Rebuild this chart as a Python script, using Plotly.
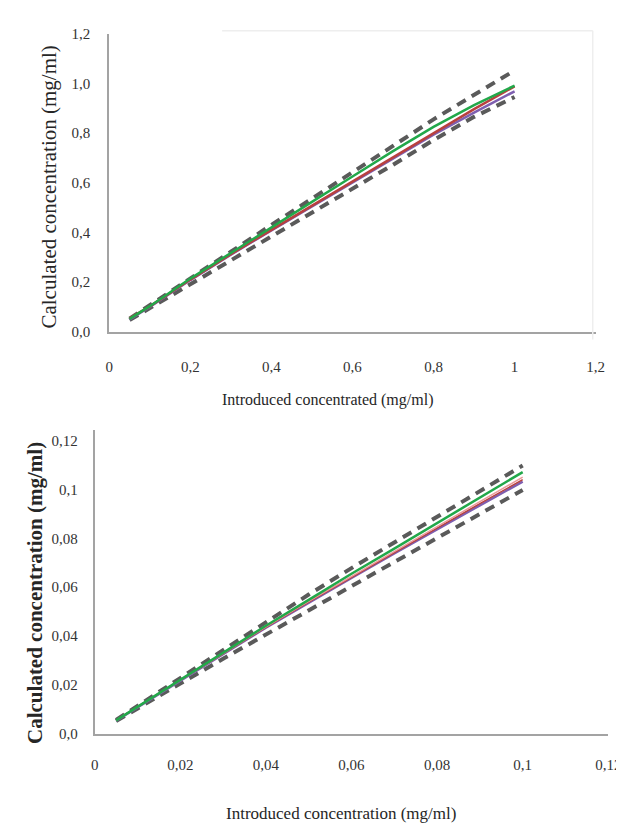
import plotly.graph_objects as go

W, H = 624, 824

# ---------- Top chart data (0.05 - 1 mg/ml) ----------
top_x = [0.05, 0.1, 0.2, 0.3, 0.4, 0.5, 0.6, 0.7, 0.8, 0.9, 1.0]
top_green = [0.052, 0.103, 0.214, 0.318, 0.421, 0.523, 0.625, 0.727, 0.825, 0.912, 0.991]
top_red = [0.054, 0.102, 0.210, 0.312, 0.410, 0.507, 0.605, 0.703, 0.800, 0.896, 0.988]
top_purple = [0.050, 0.100, 0.208, 0.310, 0.408, 0.505, 0.602, 0.698, 0.793, 0.882, 0.968]
top_upper = [0.053, 0.106, 0.215, 0.322, 0.430, 0.535, 0.642, 0.748, 0.855, 0.955, 1.052]
top_lower = [0.047, 0.095, 0.190, 0.285, 0.380, 0.476, 0.572, 0.672, 0.772, 0.865, 0.945]
top_xticks = [0, 0.2, 0.4, 0.6, 0.8, 1.0, 1.2]
top_xticktext = ["0", "0,2", "0,4", "0,6", "0,8", "1", "1,2"]
top_yticks = [0, 0.2, 0.4, 0.6, 0.8, 1.0, 1.2]
top_yticktext = ["0,0", "0,2", "0,4", "0,6", "0,8", "1,0", "1,2"]

# ---------- Bottom chart data (0.005 - 0.1 mg/ml) ----------
bot_x = [0.005, 0.01, 0.02, 0.03, 0.04, 0.05, 0.06, 0.07, 0.08, 0.09, 0.1]
bot_green = [0.0055, 0.0110, 0.0221, 0.0330, 0.0442, 0.0548, 0.0655, 0.0758, 0.0862, 0.0967, 0.1071]
bot_pink = [0.0055, 0.0110, 0.0220, 0.0328, 0.0438, 0.0542, 0.0645, 0.0747, 0.0848, 0.0950, 0.1050]
bot_red = [0.0056, 0.0111, 0.0220, 0.0327, 0.0436, 0.0539, 0.0641, 0.0742, 0.0842, 0.0942, 0.1040]
bot_purple = [0.0054, 0.0109, 0.0219, 0.0326, 0.0434, 0.0537, 0.0638, 0.0738, 0.0838, 0.0935, 0.1032]
bot_upper = [0.0057, 0.0114, 0.0229, 0.0343, 0.0457, 0.0570, 0.0678, 0.0784, 0.0889, 0.0994, 0.1098]
bot_lower = [0.0052, 0.0104, 0.0206, 0.0307, 0.0407, 0.0506, 0.0605, 0.0703, 0.0801, 0.0900, 0.0998]
bot_xticks = [0, 0.02, 0.04, 0.06, 0.08, 0.1, 0.12]
bot_xticktext = ["0", "0,02", "0,04", "0,06", "0,08", "0,1", "0,12"]
bot_yticks = [0, 0.02, 0.04, 0.06, 0.08, 0.1, 0.12]
bot_yticktext = ["0,0", "0,02", "0,04", "0,06", "0,08", "0,1", "0,12"]

GREEN = "#22a84a"
RED = "#b8403f"
PURPLE = "#7e5fb0"
PINK = "#eb9a9a"
DASH = "#5a5a5a"
AXIS = "#a3a3a3"
FONT = "Liberation Serif"

fig = go.Figure()

def add(x, y, color, width, dash, xa, ya):
    fig.add_trace(go.Scatter(x=x, y=y, mode="lines", xaxis=xa, yaxis=ya,
                             line=dict(color=color, width=width, dash=dash),
                             showlegend=False, hoverinfo="skip"))

# top
add(top_x, top_upper, DASH, 4, "10px,7px", "x", "y")
add(top_x, top_lower, DASH, 4, "10px,7px", "x", "y")
add(top_x, top_purple, PURPLE, 2.5, "solid", "x", "y")
add(top_x, top_red, RED, 2.5, "solid", "x", "y")
add(top_x, top_green, GREEN, 2.5, "solid", "x", "y")
# bottom
add(bot_x, bot_upper, DASH, 4, "10px,7px", "x2", "y2")
add(bot_x, bot_lower, DASH, 4, "10px,7px", "x2", "y2")
add(bot_x, bot_purple, PURPLE, 2.5, "solid", "x2", "y2")
add(bot_x, bot_red, RED, 1.5, "solid", "x2", "y2")
add(bot_x, bot_pink, PINK, 1.5, "solid", "x2", "y2")
add(bot_x, bot_green, GREEN, 2.5, "solid", "x2", "y2")

def px(v):
    return v / W

def py(v):
    return 1 - v / H

tickfont = dict(family=FONT, size=15, color="#333333")
common = dict(showgrid=False, zeroline=False, showline=True, linecolor=AXIS,
              linewidth=2, ticks="", tickfont=tickfont, tickmode="array")

fig.update_layout(
    width=W, height=H,
    margin=dict(l=0, r=0, t=0, b=0),
    paper_bgcolor="white", plot_bgcolor="white",
    xaxis=dict(domain=[px(100), px(600)], range=[0, 1.2], anchor="y",
               tickvals=top_xticks, ticktext=top_xticktext,
               ticklabelstandoff=20, **common),
    yaxis=dict(domain=[py(322), py(18)], range=[0, 1.2], anchor="x",
               tickvals=top_yticks, ticktext=top_yticktext,
               ticklabelstandoff=14, **common),
    xaxis2=dict(domain=[px(85), px(613)], range=[0, 0.12], anchor="y2",
                tickvals=bot_xticks, ticktext=bot_xticktext,
                ticklabelstandoff=16, **common),
    yaxis2=dict(domain=[py(732), py(422)], range=[0, 0.1244], anchor="x2",
                tickvals=bot_yticks, ticktext=bot_yticktext,
                ticklabelstandoff=12, **common),
)

def note(text, x, y, size, angle=0):
    fig.add_annotation(text=text, x=px(x), y=py(y), xref="paper", yref="paper",
                       xanchor="center", yanchor="middle", showarrow=False,
                       textangle=angle,
                       font=dict(family=FONT, size=size, color="#262626"))

note("Introduced concentrated (mg/ml)", 324, 392, 16)
note("Calculated concentration (mg/ml)", 38, 174, 21, -90)
note("Introduced concentration (mg/ml)", 338, 813, 17)
note("<b>Calculated concentration (mg/ml)</b>", 23, 588, 21, -90)

# faint chart-area frame of the upper chart
fig.add_shape(type="line", xref="paper", yref="paper", x0=px(216), x1=px(597),
              y0=py(15), y1=py(15), line=dict(color="#eeeeee", width=1.5))
fig.add_shape(type="line", xref="paper", yref="paper", x0=px(597), x1=px(597),
              y0=py(15), y1=py(330), line=dict(color="#eeeeee", width=1.5))

fig.write_html("out.html")
